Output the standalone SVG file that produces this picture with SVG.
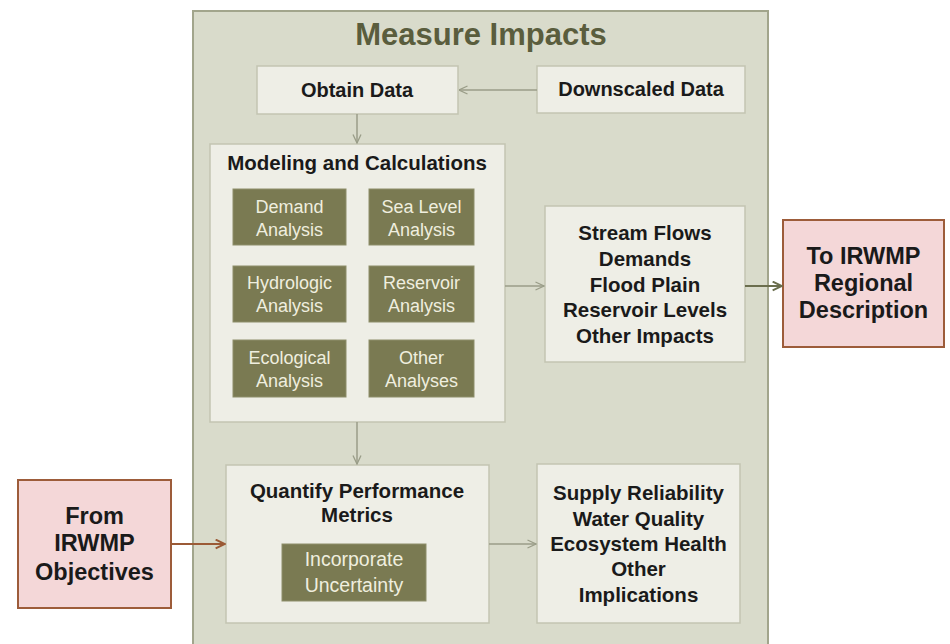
<svg xmlns="http://www.w3.org/2000/svg" width="950" height="644" viewBox="0 0 950 644">
<defs>
<marker id="ag" viewBox="0 0 10 10" refX="9.5" refY="5" markerWidth="10" markerHeight="10" markerUnits="userSpaceOnUse" orient="auto">
<polyline points="1,1 9.5,5 1,9" fill="none" stroke="#9a9d88" stroke-width="1.3"/>
</marker>
<marker id="ad" viewBox="0 0 10 10" refX="9.5" refY="5" markerWidth="11" markerHeight="11" markerUnits="userSpaceOnUse" orient="auto">
<polyline points="1,1 9.5,5 1,9" fill="none" stroke="#6b6e4e" stroke-width="1.8"/>
</marker>
<marker id="ab" viewBox="0 0 10 10" refX="9.5" refY="5" markerWidth="11" markerHeight="11" markerUnits="userSpaceOnUse" orient="auto">
<polyline points="1,1 9.5,5 1,9" fill="none" stroke="#9b5a36" stroke-width="1.8"/>
</marker>
</defs>
<style>
text{font-family:"Liberation Sans",Arial,sans-serif;text-anchor:middle}
.panel{fill:#d9dbcb;stroke:#a2a58c;stroke-width:2}
.box{fill:#eeeee6;stroke:#c3c5b2;stroke-width:1.5}
.olive{fill:#7a7a52;stroke:#8d8e6a;stroke-width:1}
.pink{fill:#f4d7d8;stroke:#9d5c3a;stroke-width:2}
.b{font-weight:bold;fill:#1a1a1a}
.w{fill:#efeedf;font-size:18px}
.con{fill:none;stroke:#9a9d88;stroke-width:1.5}
</style>
<rect width="950" height="644" fill="#ffffff"/>
<g id="panel">
<rect class="panel" x="193" y="11" width="575" height="640"/>
<text x="481" y="45" style="font-size:31px;font-weight:bold;fill:#5a5d3d">Measure Impacts</text>
</g>
<g id="obtain">
<rect class="box" x="257" y="66" width="201" height="48"/>
<text class="b" x="357" y="97" style="font-size:20px">Obtain Data</text>
</g>
<g id="downscaled">
<rect class="box" x="537" y="66" width="208" height="47"/>
<text class="b" x="641" y="96" style="font-size:20px">Downscaled Data</text>
</g>
<g id="modeling">
<rect class="box" x="210" y="144" width="295" height="278"/>
<text class="b" x="357" y="170" style="font-size:20.5px">Modeling and Calculations</text>
</g>
<g id="demand">
<rect class="olive" x="233" y="189" width="113" height="56"/>
<text class="w" x="289.5" y="213">Demand</text>
<text class="w" x="289.5" y="236">Analysis</text>
</g>
<g id="sealevel">
<rect class="olive" x="369" y="189" width="105" height="56"/>
<text class="w" x="421.5" y="213">Sea Level</text>
<text class="w" x="421.5" y="236">Analysis</text>
</g>
<g id="hydrologic">
<rect class="olive" x="233" y="266" width="113" height="56"/>
<text class="w" x="289.5" y="289">Hydrologic</text>
<text class="w" x="289.5" y="312">Analysis</text>
</g>
<g id="reservoir">
<rect class="olive" x="369" y="266" width="105" height="56"/>
<text class="w" x="421.5" y="289">Reservoir</text>
<text class="w" x="421.5" y="312">Analysis</text>
</g>
<g id="ecological">
<rect class="olive" x="233" y="340" width="113" height="57"/>
<text class="w" x="289.5" y="364">Ecological</text>
<text class="w" x="289.5" y="387">Analysis</text>
</g>
<g id="other">
<rect class="olive" x="369" y="340" width="105" height="57"/>
<text class="w" x="421.5" y="364">Other</text>
<text class="w" x="421.5" y="387">Analyses</text>
</g>
<g id="streamflows">
<rect class="box" x="545" y="206" width="200" height="156"/>
<text class="b" style="font-size:20.5px" x="645" y="240">Stream Flows</text>
<text class="b" style="font-size:20.5px" x="645" y="266">Demands</text>
<text class="b" style="font-size:20.5px" x="645" y="292">Flood Plain</text>
<text class="b" style="font-size:20.5px" x="645" y="317">Reservoir Levels</text>
<text class="b" style="font-size:20.5px" x="645" y="343">Other Impacts</text>
</g>
<g id="toirwmp">
<rect class="pink" x="783" y="220" width="161" height="127"/>
<text class="b" style="font-size:23.5px" x="863.5" y="264">To IRWMP</text>
<text class="b" style="font-size:23.5px" x="863.5" y="291">Regional</text>
<text class="b" style="font-size:23.5px" x="863.5" y="318">Description</text>
</g>
<g id="quantify">
<rect class="box" x="226" y="465" width="263" height="158"/>
<text class="b" style="font-size:20.5px" x="357" y="498">Quantify Performance</text>
<text class="b" style="font-size:20.5px" x="357" y="522">Metrics</text>
</g>
<g id="uncertainty">
<rect class="olive" x="282" y="544" width="144" height="57"/>
<text class="w" style="font-size:19.5px" x="354" y="566">Incorporate</text>
<text class="w" style="font-size:19.5px" x="354" y="592">Uncertainty</text>
</g>
<g id="supply">
<rect class="box" x="537" y="464" width="203" height="159"/>
<text class="b" style="font-size:20.5px" x="638.5" y="500">Supply Reliability</text>
<text class="b" style="font-size:20.5px" x="638.5" y="526">Water Quality</text>
<text class="b" style="font-size:20.5px" x="638.5" y="551">Ecosystem Health</text>
<text class="b" style="font-size:20.5px" x="638.5" y="576">Other</text>
<text class="b" style="font-size:20.5px" x="638.5" y="602">Implications</text>
</g>
<g id="fromirwmp">
<rect class="pink" x="18" y="480" width="153" height="128"/>
<text class="b" style="font-size:23.5px" x="94.5" y="524">From</text>
<text class="b" style="font-size:23.5px" x="94.5" y="551">IRWMP</text>
<text class="b" style="font-size:23.5px" x="94.5" y="580">Objectives</text>
</g>
<g id="connectors">
<line class="con" x1="537" y1="90" x2="459" y2="90" marker-end="url(#ag)"/>
<line class="con" x1="357" y1="114" x2="357" y2="143" marker-end="url(#ag)"/>
<line class="con" x1="505" y1="286" x2="544" y2="286" marker-end="url(#ag)"/>
<line x1="745" y1="286" x2="782" y2="286" stroke="#6b6e4e" stroke-width="2.2" marker-end="url(#ad)"/>
<line class="con" x1="357" y1="422" x2="357" y2="464" marker-end="url(#ag)"/>
<line class="con" x1="489" y1="544" x2="536" y2="544" marker-end="url(#ag)"/>
<line x1="171" y1="544" x2="225" y2="544" stroke="#9b5a36" stroke-width="2.2" marker-end="url(#ab)"/>
</g>
</svg>
